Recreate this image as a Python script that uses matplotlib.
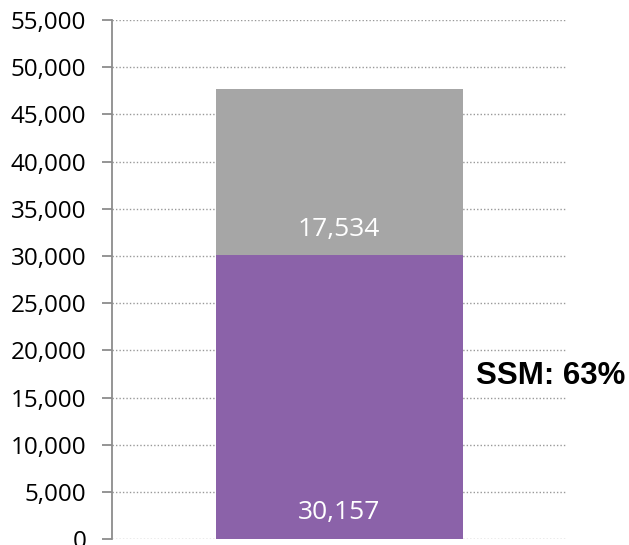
import matplotlib
matplotlib.use("Agg")
import matplotlib.pyplot as plt
from matplotlib.ticker import FuncFormatter

# data
categories = [""]
ssm_values = [30157]
other_values = [17534]
yticks = list(range(0, 55001, 5000))
share_label = "SSM: 63%"

fig = plt.figure(figsize=(6.29, 5.45), dpi=100)
ax = fig.add_axes([0.178, 0.0110, 0.722, 0.952])

x = list(range(len(categories)))
ax.bar(x, ssm_values, width=0.544, color="#8B62A9", zorder=2)
ax.bar(x, other_values, bottom=ssm_values, width=0.544, color="#A6A6A6", zorder=2)

for i in x:
    ax.text(i, 3100, f"{ssm_values[i]:,}", ha="center", va="center_baseline",
            color="white", fontsize=19, family="Open Sans", zorder=3)
    ax.text(i, ssm_values[i] + 3000, f"{other_values[i]:,}", ha="center",
            va="center_baseline", color="white", fontsize=19, family="Open Sans", zorder=3)

ax.text(0.302, 17300, share_label, ha="left", va="center", fontsize=22.5,
        fontweight="bold", family="Liberation Sans")

ax.set_xlim(-0.5, 0.5)
ax.set_ylim(0, 55000)
ax.set_yticks(yticks)
ax.yaxis.set_major_formatter(FuncFormatter(lambda v, p: f"{int(v):,}"))
ax.set_xticks([])
ax.grid(axis="y", color="#999999", linestyle=(0, (1, 1.5)), linewidth=1, zorder=1)
for s in ["top", "right", "bottom"]:
    ax.spines[s].set_visible(False)
ax.spines["left"].set_color("#8C8C8C")
ax.spines["left"].set_linewidth(1.3)
ax.tick_params(axis="y", length=7.5, width=1.3, color="#8C8C8C", labelsize=17.5, pad=11)
for lab in ax.get_yticklabels():
    lab.set_family("Open Sans")

fig.savefig("out.png", dpi=100)
